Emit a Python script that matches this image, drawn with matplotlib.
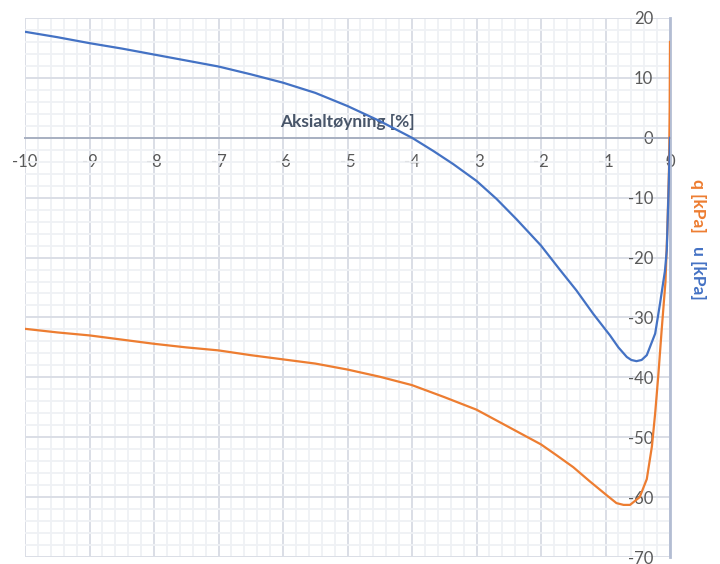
import numpy as np
import matplotlib.pyplot as plt
from matplotlib.ticker import MultipleLocator

plt.rcParams['font.family'] = ['Lato', 'DejaVu Sans']
plt.rcParams['axes.unicode_minus'] = False

eps_q = [0, -0.005, -0.015, -0.04, -0.07, -0.13, -0.18, -0.23, -0.28, -0.36, -0.47,
         -0.62, -0.72, -0.83, -0.98, -1.24, -1.5, -1.76, -2.0, -2.5, -3.0, -3.5,
         -4.0, -4.5, -5.0, -5.5, -6.0, -6.5, -7.0, -7.5, -8.0, -8.5, -9.0, -9.5, -10.0]
q_kpa = [16, 5, -5, -15, -24, -32.2, -39.5, -46.0, -51.5, -57.0, -60.0,
         -61.3, -61.3, -61.0, -59.7, -57.4, -55.0, -53.0, -51.2, -48.3, -45.4, -43.3,
         -41.3, -39.9, -38.7, -37.7, -37.0, -36.3, -35.5, -35.0, -34.4, -33.7, -33.0, -32.5, -31.9]

eps_u = [0, -0.02, -0.05, -0.078, -0.155, -0.23, -0.36, -0.44, -0.52, -0.6,
         -0.67, -0.8, -0.93, -1.19, -1.45, -1.71, -2.0, -2.38, -2.69, -3.0, -3.36, -3.67, -4.0,
         -4.5, -5.0, -5.5, -6.0, -6.5, -7.0, -7.5, -8.0, -8.5, -9.0, -9.5, -10.0]
u_kpa = [0, -8, -18.8, -22.2, -27.7, -32.7, -36.3, -37.1, -37.3, -37.1,
         -36.6, -35.0, -33.0, -29.4, -25.5, -22.0, -18.0, -13.6, -10.2, -7.2, -4.4, -2.2, 0.0,
         2.8, 5.3, 7.5, 9.2, 10.6, 11.9, 12.9, 13.9, 14.9, 15.8, 16.8, 17.7]

blue = '#4472C4'
orange = '#ED7D31'

fig = plt.figure(figsize=(7.2, 5.64), dpi=100)
ax = fig.add_axes([25/720, 1 - 557/564, 645/720, 539/564])

ax.set_xlim(-10, 0)
ax.set_ylim(-70, 20)
ax.xaxis.set_major_locator(MultipleLocator(1))
ax.xaxis.set_minor_locator(MultipleLocator(0.2))
ax.yaxis.set_major_locator(MultipleLocator(10))
ax.yaxis.set_minor_locator(MultipleLocator(2))
ax.grid(which='major', color='#dadee6', lw=1.4)
ax.grid(which='minor', color='#eff1f5', lw=1.3)
ax.set_axisbelow(True)

ax.plot(eps_q, q_kpa, color=orange, lw=1.6, zorder=3)
ax.plot(eps_u, u_kpa, color=blue, lw=1.6, zorder=4)

# axes cross at the origin, like in the spreadsheet
ax.spines['bottom'].set_position(('data', 0))
ax.spines['left'].set_position(('data', 0))
ax.spines['bottom'].set_color('#a8b0c2')
ax.spines['bottom'].set_linewidth(1.4)
ax.spines['left'].set_color('#b3bdd3')
ax.spines['left'].set_linewidth(2)
ax.spines['top'].set_visible(False)
ax.spines['right'].set_visible(False)
for s in ['bottom', 'left']:
    ax.spines[s].set_zorder(2.5)

ax.tick_params(which='both', length=0)
ax.tick_params(axis='x', pad=12, labelsize=12, labelcolor='#595959')
ax.tick_params(axis='y', pad=12, labelsize=12, labelcolor='#595959')
ax.set_xticks(np.arange(-10, 1, 1))
ax.set_xticklabels([str(v) for v in range(-10, 1)])
ax.set_yticks(np.arange(-70, 21, 10))
ax.set_yticklabels([str(v) for v in range(-70, 21, 10)])

ax.text(0.5, 2.6, 'Aksialtøyning [%]', transform=ax.get_yaxis_transform(),
        ha='center', va='center', fontsize=12.5, fontweight='bold', color='#485569')

fig.text(698/720, 1 - 206/564, 'q [kPa]', rotation=-90, ha='center', va='center',
         fontsize=12.5, fontweight='bold', color=orange)
fig.text(698/720, 1 - 273/564, 'u [kPa]', rotation=-90, ha='center', va='center',
         fontsize=12.5, fontweight='bold', color=blue)

fig.savefig('out.png', dpi=100)
